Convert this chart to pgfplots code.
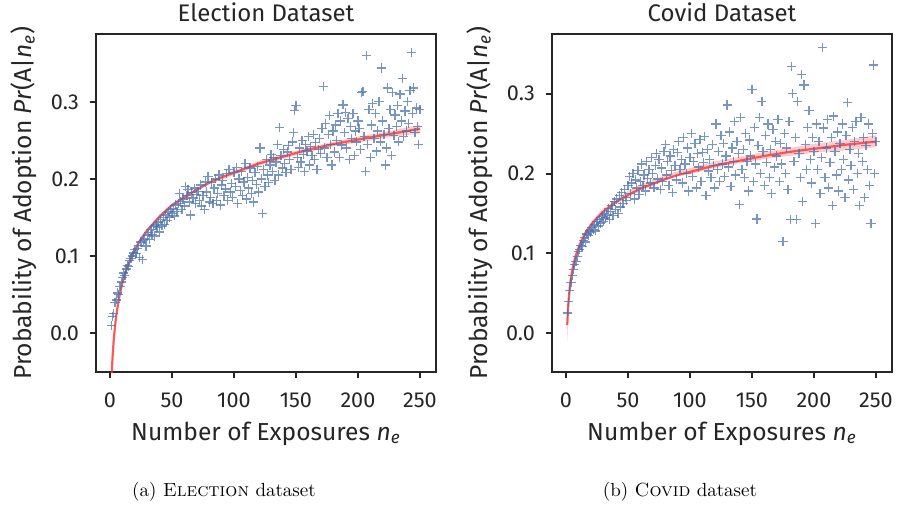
\documentclass[border=0pt]{standalone}
\usepackage{fontspec}
\usepackage{pgfplots}
\pgfplotsset{compat=1.18}
\newfontfamily\plotfont{Fira Sans}
\definecolor{ink}{HTML}{262626}
\definecolor{pts}{HTML}{4C72B0}
\definecolor{fitred}{HTML}{FF2A2A}

\pgfplotsset{
  panel/.style={
    scale only axis, width=170pt, height=169pt,
    xmin=-11.3, xmax=263,
    xtick={0,50,100,150,200,250},
    ytick={0,0.1,0.2,0.3},
    yticklabel style={/pgf/number format/fixed,/pgf/number format/fixed zerofill,/pgf/number format/precision=1},
    /pgf/number format/assume math mode=true,
    tick align=outside, tick pos=left,
    major tick length=3pt,
    every tick/.style={ink, line width=1pt},
    axis line style={ink, line width=1.2pt},
    tick label style={ink, font=\plotfont\fontsize{10.8}{12}\selectfont},
    x tick label style={anchor=base, yshift=-14.5pt},
    y tick label style={anchor=east, xshift=-2pt},
    title style={ink, font=\plotfont\fontsize{12}{14}\selectfont, at={(axis description cs:0.5,1)}, anchor=base},
    xlabel style={ink, font=\plotfont\fontsize{12.3}{14}\selectfont, at={(axis description cs:0.5,0)}, anchor=base, yshift=-34pt},
    ylabel style={ink, font=\plotfont\fontsize{12.3}{14}\selectfont, at={(axis description cs:-0.191,0.5)}, anchor=base},
    xlabel={Number of Exposures \textit{n}\textsubscript{\textit{e}}},
    ylabel={Probability of Adoption \textit{Pr}(A|\textit{n}\textsubscript{\textit{e}})},
  },
  scat/.style={only marks, mark=+, mark size=2.3pt, mark options={pts, line width=0.65pt, opacity=0.75}},
  band/.style={draw=none, fill=fitred, fill opacity=0.25},
  fit/.style={fitred, line width=1.1pt, opacity=0.75},
}

\begin{document}
\begin{tikzpicture}
\path[use as bounding box] (0,0) rectangle (450pt,252pt);

% ---------------- Election ----------------
\begin{axis}[panel, at={(48pt,66pt)}, anchor=south west,
  ymin=-0.0506, ymax=0.388, title={Election Dataset}]
\addplot[scat] coordinates {
(1,0.010)(2,0.021)(3,0.025)(4,0.040)(5,0.043)(6,0.052)(7,0.050)(8,0.060)(9,0.066)(10,0.072)
(11,0.078)(12,0.075)(13,0.083)(14,0.088)(15,0.086)(16,0.094)(17,0.097)(18,0.100)(19,0.104)(20,0.108)
(21,0.103)(22,0.110)(23,0.114)(24,0.098)(25,0.118)(26,0.095)(27,0.120)(28,0.122)(29,0.113)(30,0.127)
(31,0.130)(32,0.121)(33,0.134)(34,0.128)(35,0.138)(36,0.126)(37,0.140)(38,0.137)(39,0.144)(40,0.131)
(41,0.147)(42,0.139)(43,0.150)(44,0.141)(45,0.153)(46,0.146)(47,0.157)(48,0.150)(49,0.160)(50,0.155)
(51,0.162)(52,0.152)(53,0.166)(54,0.158)(55,0.168)(56,0.181)(57,0.171)(58,0.160)(59,0.174)(60,0.165)
(61,0.190)(62,0.178)(63,0.186)(64,0.170)(65,0.153)(66,0.182)(67,0.175)(68,0.188)(69,0.168)(70,0.180)
(71,0.184)(72,0.172)(73,0.192)(74,0.165)(75,0.178)(76,0.160)(77,0.196)(78,0.183)(79,0.203)(80,0.170)
(81,0.176)(82,0.195)(83,0.168)(84,0.188)(85,0.200)(86,0.172)(87,0.181)(88,0.205)(89,0.166)(90,0.192)
(91,0.198)(92,0.178)(93,0.187)(94,0.207)(95,0.172)(96,0.212)(97,0.183)(98,0.194)(99,0.176)(100,0.208)
(101,0.190)(102,0.215)(103,0.168)(104,0.200)(105,0.185)(106,0.210)(107,0.178)(108,0.196)(109,0.220)(110,0.174)
(111,0.202)(112,0.188)(113,0.214)(114,0.181)(115,0.198)(116,0.170)(117,0.208)(118,0.193)(119,0.216)(120,0.183)
(121,0.240)(122,0.200)(123,0.155)(124,0.212)(125,0.190)(126,0.225)(127,0.205)(128,0.195)(129,0.218)(130,0.232)
(131,0.210)(132,0.228)(133,0.198)(134,0.222)(135,0.245)(136,0.205)(137,0.267)(138,0.230)(139,0.214)(140,0.238)
(141,0.220)(142,0.208)(143,0.235)(144,0.243)(145,0.225)(146,0.212)(147,0.248)(148,0.260)(149,0.289)(150,0.295)
(151,0.228)(152,0.215)(153,0.240)(154,0.222)(155,0.250)(156,0.232)(157,0.210)(158,0.245)(159,0.236)(160,0.255)
(161,0.218)(162,0.242)(163,0.230)(164,0.258)(165,0.225)(166,0.247)(167,0.212)(168,0.238)(169,0.252)(170,0.233)
(171,0.265)(172,0.320)(173,0.240)(174,0.272)(175,0.228)(176,0.258)(177,0.282)(178,0.245)(179,0.218)(180,0.262)
(181,0.235)(182,0.270)(183,0.250)(184,0.285)(185,0.228)(186,0.275)(187,0.244)(188,0.296)(189,0.260)(190,0.286)
(191,0.240)(192,0.278)(193,0.225)(194,0.268)(195,0.252)(196,0.285)(197,0.230)(198,0.262)(199,0.248)(200,0.275)
(201,0.265)(202,0.238)(203,0.312)(204,0.313)(205,0.255)(206,0.210)(207,0.360)(208,0.245)(209,0.290)(210,0.228)
(211,0.270)(212,0.298)(213,0.252)(214,0.285)(215,0.236)(216,0.262)(217,0.300)(218,0.248)(219,0.344)(220,0.275)
(221,0.258)(222,0.218)(223,0.240)(224,0.318)(225,0.265)(226,0.290)(227,0.230)(228,0.312)(229,0.256)(230,0.283)
(231,0.268)(232,0.295)(233,0.248)(234,0.310)(235,0.275)(236,0.330)(237,0.255)(238,0.288)(239,0.262)(240,0.300)
(241,0.272)(242,0.315)(243,0.364)(244,0.285)(245,0.318)(246,0.260)(247,0.292)(248,0.268)(249,0.245)(250,0.290)
};
% confidence band: upper edge forward, lower edge back
\addplot[band] coordinates {
(1,-0.060)(1.5,-0.039)(2,-0.025)(3,-0.003)(4,0.013)(5,0.026)(6,0.037)(8,0.055)(10,0.068)(13,0.084)(16,0.097)
(20,0.111)(25,0.125)(30,0.136)(40,0.154)(50,0.168)(60,0.179)(70,0.188)(80,0.197)(90,0.204)(100,0.211)
(120,0.223)(140,0.232)(160,0.241)(180,0.248)(200,0.255)(225,0.262)(250,0.270)
(250,0.259)(225,0.254)(200,0.247)(180,0.242)(160,0.235)(140,0.226)(120,0.217)(100,0.205)(90,0.199)(80,0.193)
(70,0.184)(60,0.174)(50,0.163)(40,0.149)(30,0.131)(25,0.120)(20,0.106)(16,0.091)(13,0.078)(10,0.062)(8,0.048)
(6,0.029)(5,0.018)(4,0.003)(3,-0.015)(2,-0.041)(1.5,-0.059)(1,-0.086)};
\addplot[fit] coordinates {
(1,-0.073)(1.5,-0.049)(2,-0.033)(3,-0.009)(4,0.008)(5,0.022)(6,0.033)(8,0.051)(10,0.065)(13,0.081)(16,0.094)
(20,0.108)(25,0.122)(30,0.133)(40,0.151)(50,0.166)(60,0.176)(70,0.186)(80,0.195)(90,0.202)(100,0.208)
(120,0.220)(140,0.229)(160,0.238)(180,0.245)(200,0.251)(225,0.258)(250,0.265)};
\end{axis}

% ---------------- Covid ----------------
\begin{axis}[panel, at={(276pt,66pt)}, anchor=south west,
  ymin=-0.049, ymax=0.375, title={Covid Dataset}]
\addplot[scat] coordinates {
(1,0.025)(2,0.039)(3,0.053)(4,0.063)(5,0.072)(6,0.080)(7,0.086)(8,0.090)(9,0.096)(10,0.102)
(11,0.105)(12,0.110)(13,0.108)(14,0.116)(15,0.120)(16,0.114)(17,0.124)(18,0.122)(19,0.128)(20,0.126)
(21,0.132)(22,0.130)(23,0.136)(24,0.128)(25,0.140)(26,0.134)(27,0.142)(28,0.138)(29,0.146)(30,0.140)
(31,0.150)(32,0.144)(33,0.148)(34,0.156)(35,0.142)(36,0.152)(37,0.160)(38,0.147)(39,0.165)(40,0.155)
(41,0.168)(42,0.150)(43,0.172)(44,0.158)(45,0.176)(46,0.162)(47,0.180)(48,0.170)(49,0.166)(50,0.185)
(51,0.196)(52,0.175)(53,0.188)(54,0.200)(55,0.168)(56,0.192)(57,0.182)(58,0.204)(59,0.174)(60,0.190)
(61,0.212)(62,0.185)(63,0.198)(64,0.178)(65,0.215)(66,0.194)(67,0.205)(68,0.188)(69,0.220)(70,0.200)
(71,0.182)(72,0.210)(73,0.225)(74,0.193)(75,0.218)(76,0.180)(77,0.207)(78,0.190)(79,0.228)(80,0.236)
(81,0.198)(82,0.215)(83,0.185)(84,0.222)(85,0.204)(86,0.176)(87,0.230)(88,0.210)(89,0.192)(90,0.226)
(91,0.240)(92,0.205)(93,0.218)(94,0.188)(95,0.245)(96,0.212)(97,0.200)(98,0.232)(99,0.178)(100,0.220)
(101,0.250)(102,0.196)(103,0.215)(104,0.238)(105,0.182)(106,0.225)(107,0.208)(108,0.243)(109,0.190)(110,0.226)
(111,0.214)(112,0.246)(113,0.172)(114,0.230)(115,0.203)(116,0.218)(117,0.195)(118,0.236)(119,0.210)(120,0.182)
(121,0.262)(122,0.205)(123,0.228)(124,0.190)(125,0.248)(126,0.212)(127,0.238)(128,0.196)(129,0.222)(130,0.286)
(131,0.208)(132,0.252)(133,0.184)(134,0.232)(135,0.215)(136,0.265)(137,0.198)(138,0.240)(139,0.225)(140,0.161)
(141,0.270)(142,0.205)(143,0.230)(144,0.195)(145,0.250)(146,0.215)(147,0.178)(148,0.242)(149,0.222)(150,0.305)
(151,0.190)(152,0.258)(153,0.212)(154,0.143)(155,0.235)(156,0.270)(157,0.200)(158,0.290)(159,0.228)(160,0.185)
(161,0.248)(162,0.214)(163,0.262)(164,0.195)(165,0.230)(166,0.175)(167,0.255)(168,0.208)(169,0.240)(170,0.222)
(171,0.268)(172,0.190)(173,0.238)(174,0.212)(175,0.115)(176,0.250)(177,0.200)(178,0.232)(179,0.180)(180,0.265)
(181,0.142)(182,0.334)(183,0.300)(184,0.215)(185,0.245)(186,0.142)(187,0.290)(188,0.225)(189,0.195)(190,0.324)
(191,0.165)(192,0.311)(193,0.236)(194,0.205)(195,0.258)(196,0.279)(197,0.218)(198,0.188)(199,0.245)(200,0.228)
(201,0.137)(202,0.262)(203,0.205)(204,0.240)(205,0.175)(206,0.220)(207,0.358)(208,0.257)(209,0.195)(210,0.232)
(211,0.268)(212,0.182)(213,0.214)(214,0.245)(215,0.160)(216,0.272)(217,0.228)(218,0.198)(219,0.252)(220,0.178)
(221,0.238)(222,0.205)(223,0.262)(224,0.218)(225,0.170)(226,0.248)(227,0.289)(228,0.192)(229,0.230)(230,0.210)
(231,0.258)(232,0.180)(233,0.240)(234,0.265)(235,0.200)(236,0.225)(237,0.160)(238,0.270)(239,0.215)(240,0.245)
(241,0.170)(242,0.235)(243,0.205)(244,0.262)(245,0.185)(246,0.137)(247,0.250)(248,0.336)(249,0.200)(250,0.240)
};
\addplot[band] coordinates {
(1,0.030)(1.5,0.043)(2,0.054)(3,0.069)(4,0.079)(5,0.087)(6,0.094)(8,0.104)(10,0.112)(13,0.122)(16,0.129)
(20,0.139)(25,0.148)(30,0.156)(40,0.166)(50,0.178)(60,0.186)(70,0.192)(80,0.198)(90,0.203)(100,0.207)
(120,0.215)(140,0.221)(160,0.227)(180,0.232)(200,0.237)(225,0.242)(250,0.248)
(250,0.233)(225,0.229)(200,0.226)(180,0.222)(160,0.218)(140,0.213)(120,0.207)(100,0.199)(90,0.197)(80,0.191)
(70,0.185)(60,0.178)(50,0.170)(40,0.161)(30,0.148)(25,0.140)(20,0.130)(16,0.119)(13,0.110)(10,0.099)(8,0.089)
(6,0.076)(5,0.067)(4,0.057)(3,0.043)(2,0.024)(1.5,0.009)(1,-0.010)};
\addplot[fit] coordinates {
(1,0.010)(1.5,0.027)(2,0.039)(3,0.056)(4,0.068)(5,0.077)(6,0.085)(8,0.097)(10,0.106)(13,0.117)(16,0.126)
(20,0.135)(25,0.144)(30,0.152)(40,0.164)(50,0.173)(60,0.181)(70,0.187)(80,0.193)(90,0.198)(100,0.202)
(120,0.210)(140,0.216)(160,0.222)(180,0.227)(200,0.231)(225,0.236)(250,0.240)};
\end{axis}

\node[anchor=base, font=\fontsize{9.5}{11}\selectfont] at (112pt,4pt) {(a) \textsc{Election} dataset};
\node[anchor=base, font=\fontsize{9.5}{11}\selectfont] at (340pt,4pt) {(b) \textsc{Covid} dataset};
\end{tikzpicture}
\end{document}
